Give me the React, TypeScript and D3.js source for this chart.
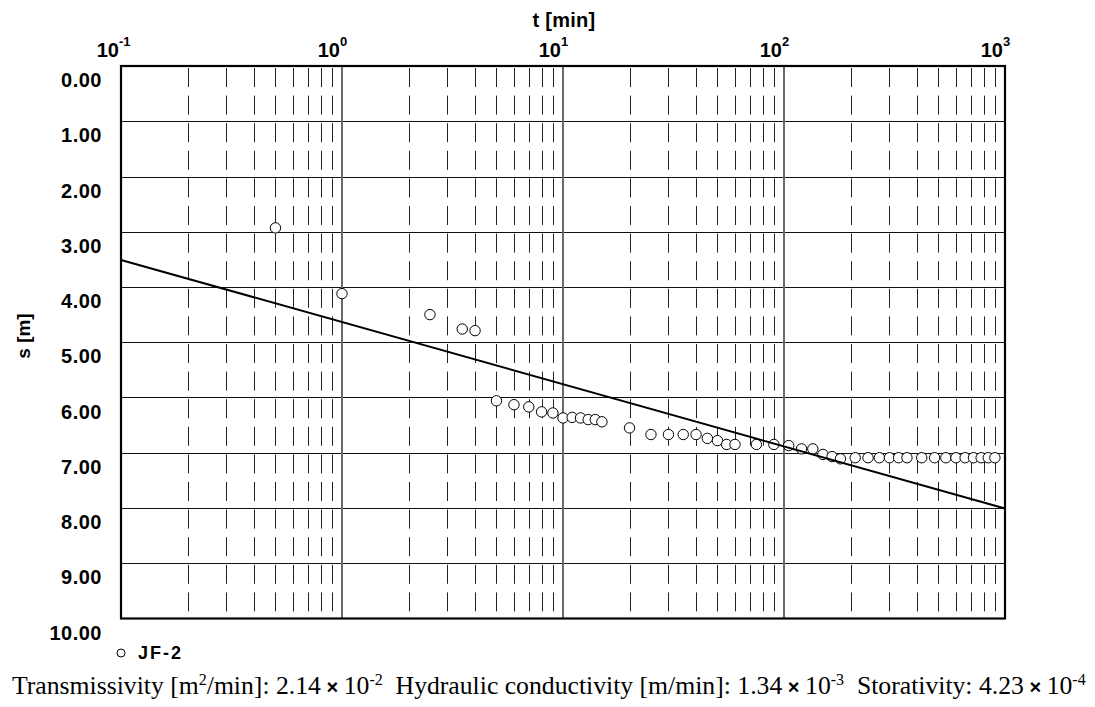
// Drawdown vs. time (semi-log) — Cooper-Jacob style plot
import React, { useEffect, useRef } from "react";
import * as d3 from "d3";

// observed points, well JF-2
const tObs = [
  0.5, 1, 2.5, 3.5, 4, 5, 6, 7, 8, 9, 10, 11, 12, 13, 14, 15, 20, 25, 30, 35,
  40, 45, 50, 55, 60, 75, 90, 105, 120, 135, 150, 165, 180, 210, 240, 270,
  300, 330, 360, 420, 480, 540, 600, 660, 720, 780, 840, 900,
];
const sObs = [
  2.93, 4.12, 4.5, 4.76, 4.79, 6.06, 6.13, 6.17, 6.26, 6.28, 6.37, 6.36, 6.37,
  6.4, 6.4, 6.44, 6.55, 6.67, 6.67, 6.67, 6.67, 6.74, 6.78, 6.85, 6.85, 6.85,
  6.85, 6.87, 6.93, 6.93, 7.03, 7.07, 7.11, 7.09, 7.09, 7.09, 7.09, 7.09,
  7.09, 7.09, 7.09, 7.09, 7.09, 7.09, 7.09, 7.09, 7.09, 7.09,
];

// straight-line fit
const tFit = [0.1, 1000];
const sFit = [3.51, 8.01];

const decades = [-1, 0, 1, 2, 3];
const sTicks = [0, 1, 2, 3, 4, 5, 6, 7, 8, 9, 10];

const W = 1095;
const H = 707;
const sans = "'Liberation Sans', Arial, sans-serif";
const serif = "'Liberation Serif', 'Times New Roman', serif";

const App: React.FC = () => {
  const svgRef = useRef<SVGSVGElement>(null);

  useEffect(() => {
    if (!svgRef.current) return;
    const svg = d3.select(svgRef.current);
    svg.selectAll("*").remove();

    const x = d3.scaleLog().domain([0.1, 1000]).range([121, 1005]);
    const y = d3.scaleLinear().domain([0, 10]).range([66, 618.5]);
    const [x0, x1] = x.range();
    const [y0, y1] = y.range();

    svg.append("rect").attr("width", W).attr("height", H).attr("fill", "#fff");

    // minor vertical grid (dashed)
    const minors: number[] = [];
    decades.slice(0, -1).forEach(d => {
      for (let k = 2; k <= 9; k++) minors.push(k * Math.pow(10, d));
    });
    svg.append("g")
      .selectAll("line")
      .data(minors)
      .join("line")
      .attr("x1", d => Math.round(x(d)) + 0.5).attr("x2", d => Math.round(x(d)) + 0.5)
      .attr("y1", y0 + 2).attr("y2", y1)
      .attr("stroke", "#222")
      .attr("stroke-width", 1)
      .attr("stroke-dasharray", "19 8.6");

    // horizontal grid
    svg.append("g")
      .selectAll("line")
      .data(sTicks.slice(1, -1))
      .join("line")
      .attr("x1", x0).attr("x2", x1)
      .attr("y1", d => Math.round(y(d)) + 0.5).attr("y2", d => Math.round(y(d)) + 0.5)
      .attr("stroke", "#111")
      .attr("stroke-width", 1);

    // decade lines
    svg.append("g")
      .selectAll("line")
      .data(decades.slice(1, -1))
      .join("line")
      .attr("x1", d => x(Math.pow(10, d))).attr("x2", d => x(Math.pow(10, d)))
      .attr("y1", y0).attr("y2", y1)
      .attr("stroke", "#6a6a6a")
      .attr("stroke-width", 2);

    // frame
    svg.append("rect")
      .attr("x", x0).attr("y", y0)
      .attr("width", x1 - x0).attr("height", y1 - y0)
      .attr("fill", "none")
      .attr("stroke", "#000")
      .attr("stroke-width", 2.2);

    // points
    svg.append("g")
      .selectAll("circle")
      .data(tObs.map((t, i) => ({ t, s: sObs[i] })))
      .join("circle")
      .attr("cx", d => x(d.t))
      .attr("cy", d => y(d.s))
      .attr("r", 5.2)
      .attr("fill", "#fff")
      .attr("stroke", "#000")
      .attr("stroke-width", 1);

    // fit line
    const line = d3.line<number>()
      .x((_, i) => x(tFit[i]))
      .y(d => y(d));
    svg.append("path")
      .attr("d", line(sFit))
      .attr("fill", "none")
      .attr("stroke", "#000")
      .attr("stroke-width", 2);

    // x tick labels (10^n)
    const xl = svg.append("g")
      .attr("font-family", sans)
      .attr("font-weight", "bold")
      .attr("fill", "#000");
    decades.forEach(d => {
      const px = x(Math.pow(10, d));
      xl.append("text")
        .attr("x", px - 2).attr("y", 57)
        .attr("text-anchor", "end")
        .attr("font-size", 20)
        .text("10");
      xl.append("text")
        .attr("x", px - 2).attr("y", 46)
        .attr("font-size", 13)
        .text(String(d));
    });

    // title
    svg.append("text")
      .attr("x", 564).attr("y", 27)
      .attr("text-anchor", "middle")
      .attr("font-family", sans).attr("font-weight", "bold")
      .attr("font-size", 20).attr("letter-spacing", 0.3)
      .text("t [min]");

    // y tick labels
    svg.append("g")
      .selectAll("text")
      .data(sTicks)
      .join("text")
      .attr("x", 102)
      .attr("y", d => y(d) + 21)
      .attr("text-anchor", "end")
      .attr("font-family", sans).attr("font-weight", "bold")
      .attr("font-size", 20).attr("letter-spacing", 0.5)
      .text(d => d.toFixed(2));

    // y title
    svg.append("text")
      .attr("transform", "translate(30,336) rotate(-90)")
      .attr("text-anchor", "middle")
      .attr("font-family", sans).attr("font-weight", "bold")
      .attr("font-size", 19)
      .text("s [m]");

    // legend
    svg.append("circle")
      .attr("cx", 121).attr("cy", 653).attr("r", 4)
      .attr("fill", "#fff").attr("stroke", "#000").attr("stroke-width", 1);
    svg.append("text")
      .attr("x", 138).attr("y", 659)
      .attr("font-family", sans).attr("font-weight", "bold")
      .attr("font-size", 18).attr("letter-spacing", 2)
      .text("JF-2");

    // parameter line
    const params: [string, string, string, string][] = [
      ["Transmissivity [m", "2", "/min]: 2.14", "-2"],
      ["Hydraulic conductivity [m/min]: 1.34", "", "", "-3"],
      ["Storativity: 4.23", "", "", "-4"],
    ];
    const txt = svg.append("text")
      .attr("x", 12).attr("y", 694)
      .attr("font-family", serif)
      .attr("font-size", 25.7)
      .attr("fill", "#000")
      .style("white-space", "pre");
    params.forEach(([a, sup, b, exp], i) => {
      txt.append("tspan").text((i > 0 ? "  " : "") + a);
      if (sup) {
        txt.append("tspan").attr("font-size", 16).attr("baseline-shift", "9px").text(sup);
        txt.append("tspan").text(b);
      }
      txt.append("tspan").attr("font-family", sans).attr("font-weight", "bold").attr("font-size", 20).text(" \u00d7 ");
      txt.append("tspan").text("10");
      txt.append("tspan").attr("font-size", 16).attr("baseline-shift", "9px").text(exp);
    });
  }, []);

  return (
    <div style={{ position: "absolute", left: 0, top: 0 }}>
      <svg ref={svgRef} width={W} height={H} style={{ display: "block" }} />
    </div>
  );
};

export default App;
